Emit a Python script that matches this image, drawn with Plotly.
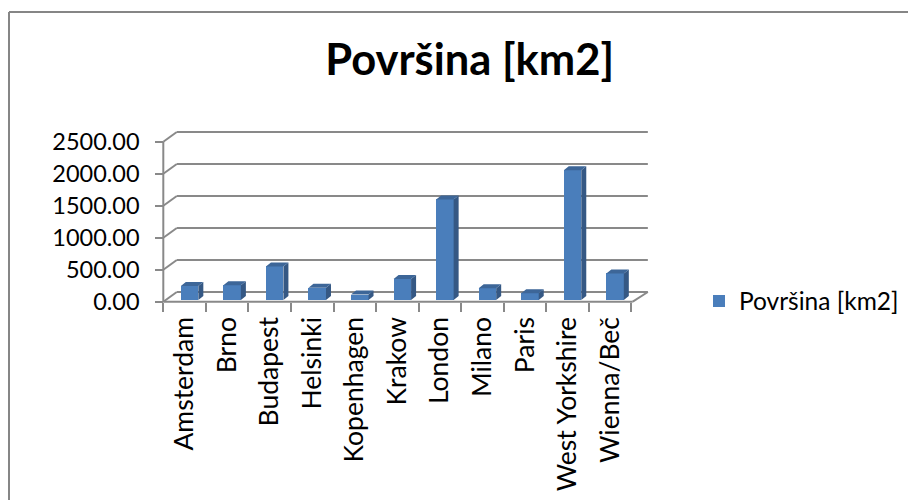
import plotly.graph_objects as go

# ---------------- data ----------------
cities = ["Amsterdam", "Brno", "Budapest", "Helsinki", "Kopenhagen", "Krakow",
          "London", "Milano", "Paris", "West Yorkshire", "Wienna/Beč"]
area = [219, 230, 525, 190, 86, 327, 1572, 182, 105, 2029, 415]
y_ticks = [0, 500, 1000, 1500, 2000, 2500]
series_name = "Površina [km2]"
title_text = "Površina [km2]"

# ---------------- geometry (pixels, page coords minus body margin) ----------------
W, H = 916, 500
OFF = 8                                   # default page body margin
L, R, T, B = 150 - OFF, 670 - OFF, 115 - OFF, 312 - OFF   # plot area in px
X_FRONT = 163.3 - OFF                     # px of front-left corner (x=-0.5)
Y_ZERO = 301.7 - OFF                      # px of front floor edge (value 0)
SX = 42.55                                # px per category
SY = 0.064                                # px per value unit
DX = 1.0 / SX                             # data units per px (x)
DY = 1.0 / SY                             # data units per px (y)

WALL_DXL, WALL_DXR, WALL_DY = 13.5, 16.5, 9.7   # back wall offset
BAR_OFF_X, BAR_OFF_Y = 5.0, 1.7                  # bar front face offset
BAR_W = 17.5                                     # bar front width
BAR_DEPTH_X, BAR_DEPTH_Y = 5.0, 4.0              # bar depth

GRID = "#898989"
FRONT = "#4a7ebb"
SIDE = "#355884"
TOP = "#3d6698"
FONT = "Lato"

n = len(cities)
idx = list(range(n))
xr = [-0.5 - (X_FRONT - L) * DX, -0.5 + (R - X_FRONT) * DX]
yr = [-(B - Y_ZERO) * DY, (Y_ZERO - T) * DY]

fig = go.Figure()

# front faces
base = BAR_OFF_Y * DY
fig.add_trace(go.Bar(
    x=[i + BAR_OFF_X * DX for i in idx], y=area, base=base,
    width=BAR_W * DX, marker=dict(color=FRONT, line=dict(width=0)),
    name=series_name, showlegend=True, hoverinfo="skip"))

# side faces and top faces
sx, sy, tx, ty = [], [], [], []
for i, v in zip(idx, area):
    xc = i + BAR_OFF_X * DX
    xl = xc - BAR_W * DX / 2
    xrr = xc + BAR_W * DX / 2
    ddx = BAR_DEPTH_X * DX
    ddy = BAR_DEPTH_Y * DY
    top = base + v
    sx += [xrr, xrr + ddx, xrr + ddx, xrr, xrr, None]
    sy += [base, base + ddy, top + ddy, top, base, None]
    tx += [xl, xrr, xrr + ddx, xl + ddx, xl, None]
    ty += [top, top, top + ddy, top + ddy, top, None]
fig.add_trace(go.Scatter(x=sx, y=sy, mode="lines", fill="toself", fillcolor=SIDE,
                         line=dict(width=0, color=SIDE), showlegend=False, hoverinfo="skip"))
fig.add_trace(go.Scatter(x=tx, y=ty, mode="lines", fill="toself", fillcolor=TOP,
                         line=dict(width=0, color=TOP), showlegend=False, hoverinfo="skip"))

# walls / grid as shapes below traces
shapes = []
def ln(x0, y0, x1, y1):
    shapes.append(dict(type="line", xref="x", yref="y", x0=x0, y0=y0, x1=x1, y1=y1,
                       line=dict(color=GRID, width=2), layer="below"))

wl = -0.5 + WALL_DXL * DX
wr = n - 0.5 + WALL_DXR * DX
for v in y_ticks:
    ln(wl, v + WALL_DY * DY, wr, v + WALL_DY * DY)
    ln(-0.5, v, wl, v + WALL_DY * DY)
ln(-0.5, 0, -0.5, y_ticks[-1])
fr = n - 0.5 + 1.4 * DX
ln(-0.5, 0, fr, 0)
ln(fr, 0, wr, WALL_DY * DY)

# chart frame (paper coords)
def px2paper_x(px):
    return (px - L) / (R - L)
def py2paper_y(py):
    return (B - py) / (B - T)
FX, FY = 8 - OFF + 1, 12 - OFF
for (a, b, c, d) in [(FX, FY, FX, 800), (FX, FY, 1200, FY)]:
    shapes.append(dict(type="line", xref="paper", yref="paper",
                       x0=px2paper_x(a), y0=py2paper_y(b), x1=px2paper_x(c), y1=py2paper_y(d),
                       line=dict(color="#868686", width=2)))

fig.update_layout(
    width=W, height=H,
    margin=dict(l=L, r=W - R, t=T, b=H - B, pad=0, autoexpand=False),
    paper_bgcolor="white", plot_bgcolor="rgba(0,0,0,0)",
    font=dict(family=FONT, color="black", size=23),
    shapes=shapes,
    bargap=0,
    title=dict(text=title_text, x=(469.7 - OFF) / W, xanchor="center", xref="container",
               y=1 - (60 - OFF) / H, yanchor="middle", yref="container",
               font=dict(family=FONT, size=43.5, weight="bold", color="black")),
    legend=dict(x=(699 - OFF) / W, y=1 - (301 - OFF) / H, xref="container", yref="container",
                xanchor="left", yanchor="middle", font=dict(size=24.5, family=FONT),
                bgcolor="rgba(0,0,0,0)"),
    xaxis=dict(range=xr, showgrid=False, zeroline=False, showline=False, automargin=False,
               anchor="free", position=(B - Y_ZERO) / (B - T),
               tickmode="array", tickvals=idx, ticktext=cities, tickangle=-90,
               ticks="", ticklabelstandoff=9,
               minor=dict(tickmode="array", tickvals=[i - 0.5 for i in range(n + 1)],
                          ticks="outside", ticklen=9, tickwidth=2, tickcolor=GRID,
                          showgrid=False),
               tickfont=dict(size=26.5, family=FONT)),
    yaxis=dict(range=yr, showgrid=False, zeroline=False, showline=False, automargin=False,
               anchor="free", position=(X_FRONT - L) / (R - L),
               tickmode="array", tickvals=y_ticks, tickformat=".2f",
               ticks="outside", ticklen=8, tickwidth=2, tickcolor=GRID,
               ticklabelstandoff=11,
               tickfont=dict(size=23.5, family=FONT)),
)

fig.write_html("out.html")
